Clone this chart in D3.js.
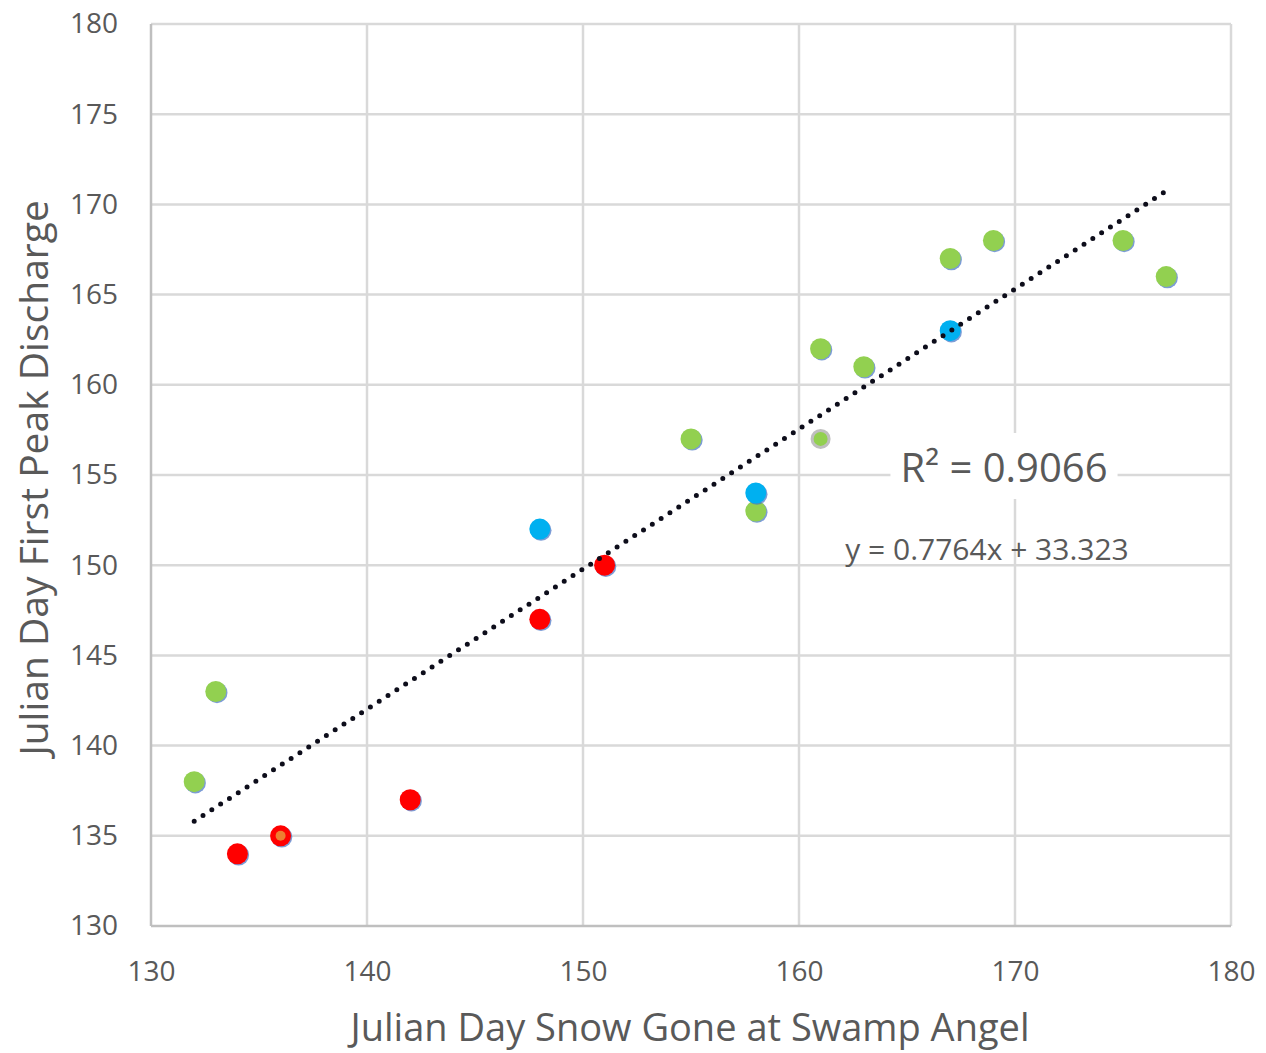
<!DOCTYPE html>
<html>
<head>
<meta charset="utf-8">
<script src="https://cdn.jsdelivr.net/npm/d3@7"></script>
<style>
  html, body { margin: 0; padding: 0; background: #fff; }
  svg { display: block; font-family: "Open Sans", "Noto Sans", sans-serif; }
</style>
</head>
<body>
<svg id="chart" width="1266" height="1053"></svg>
<script>
// Snow-gone day vs. first peak discharge day, coloured by group
const greenPoints = [[132,138],[133,143],[155,157],[158,153],[161,162],[163,161],[167,167],[169,168],[175,168],[177,166]];
const grayGreenPoints = [[161,157]];
const bluePoints = [[148,152],[158,154],[167,163]];
const redPoints = [[134,134],[142,137],[148,147],[151,150]];
const redOrangePoints = [[136,135]];

const xTicks = [130,140,150,160,170,180];
const yTicks = [130,135,140,145,150,155,160,165,170,175,180];

const trend = { slope: 0.7764, intercept: 33.323, xMin: 132, xMax: 177 };
const r2Label = "R² = 0.9066";
const eqLabel = "y = 0.7764x + 33.323";
const xTitle = "Julian Day Snow Gone at Swamp Angel";
const yTitle = "Julian Day First Peak Discharge";

const svg = d3.select("#chart");
const plot = { left: 151, right: 1231, top: 24, bottom: 926 };

const x = d3.scaleLinear().domain([130, 180]).range([plot.left, plot.right]);
const y = d3.scaleLinear().domain([130, 180]).range([plot.bottom, plot.top]);

const textColor = "#595959";
const gridColor = "#d9d9d9";

// gridlines
svg.append("g").selectAll("line").data(yTicks.slice(1)).join("line")
  .attr("x1", plot.left).attr("x2", plot.right)
  .attr("y1", d => y(d)).attr("y2", d => y(d))
  .attr("stroke", gridColor).attr("stroke-width", 2.5);
svg.append("g").selectAll("line").data(xTicks.slice(1)).join("line")
  .attr("x1", d => x(d)).attr("x2", d => x(d))
  .attr("y1", plot.top).attr("y2", plot.bottom)
  .attr("stroke", gridColor).attr("stroke-width", 2.5);

// axis lines
svg.append("line").attr("x1", plot.left).attr("x2", plot.left)
  .attr("y1", plot.top).attr("y2", plot.bottom)
  .attr("stroke", "#bfbfbf").attr("stroke-width", 2.5);
svg.append("line").attr("x1", plot.left).attr("x2", plot.right)
  .attr("y1", plot.bottom).attr("y2", plot.bottom)
  .attr("stroke", "#bfbfbf").attr("stroke-width", 2.5);

// tick labels via d3 axes (tick marks hidden)
const yAxis = svg.append("g").attr("transform", `translate(${plot.left},0)`)
  .call(d3.axisLeft(y).tickValues(yTicks).tickSize(0).tickPadding(33).tickFormat(d3.format("d")));
const xAxis = svg.append("g").attr("transform", `translate(0,${plot.bottom})`)
  .call(d3.axisBottom(x).tickValues(xTicks).tickSize(0).tickPadding(35).tickFormat(d3.format("d")));
[yAxis, xAxis].forEach(a => {
  a.select(".domain").remove();
  a.selectAll("text").attr("fill", textColor).style("font-size", "28px")
    .style("font-family", "'Open Sans', sans-serif");
});

// R² label on a white box
const r2x = 1004, r2y = 466;
const r2Group = svg.append("g");
const r2Rect = r2Group.append("rect").attr("fill", "#fff");
const r2Text = r2Group.append("text").attr("x", r2x).attr("y", r2y)
  .attr("text-anchor", "middle").attr("dominant-baseline", "central")
  .attr("fill", textColor).style("font-size", "40px").text(r2Label);
const bb = r2Text.node().getBBox();
r2Rect.attr("x", bb.x - 10).attr("y", r2y - 33)
  .attr("width", bb.width + 20).attr("height", 66);

svg.append("text").attr("x", 987).attr("y", 548)
  .attr("text-anchor", "middle").attr("dominant-baseline", "central")
  .attr("fill", textColor).style("font-size", "30px").text(eqLabel);

// markers
function drawPoints(data, fill, r) {
  const g = svg.append("g");
  g.selectAll("circle.sh").data(data).join("circle").attr("class", "sh")
    .attr("cx", d => x(d[0]) + 1.2).attr("cy", d => y(d[1]) + 1.2)
    .attr("r", r).attr("fill", "#4472c4").attr("opacity", 0.7);
  g.selectAll("circle.pt").data(data).join("circle").attr("class", "pt")
    .attr("cx", d => x(d[0])).attr("cy", d => y(d[1]))
    .attr("r", r).attr("fill", fill);
  return g;
}
drawPoints(greenPoints, "#92d050", 10.5);
drawPoints(bluePoints, "#00b0f0", 10.5);
drawPoints(redPoints, "#ff0000", 10.5);
// outlined variants
svg.append("g").selectAll("circle").data(grayGreenPoints).join("circle")
  .attr("cx", d => x(d[0])).attr("cy", d => y(d[1])).attr("r", 8.5)
  .attr("fill", "#92d050").attr("stroke", "#bfbfbf").attr("stroke-width", 3);
const ro = drawPoints(redOrangePoints, "#ff0000", 10.5);
ro.selectAll("circle.in").data(redOrangePoints).join("circle").attr("class", "in")
  .attr("cx", d => x(d[0])).attr("cy", d => y(d[1])).attr("r", 5)
  .attr("fill", "#ed7d31");

// linear trendline, dotted
const trendData = [trend.xMin, trend.xMax].map(v => [v, trend.slope * v + trend.intercept]);
svg.append("path").datum(trendData)
  .attr("d", d3.line().x(d => x(d[0])).y(d => y(d[1])))
  .attr("fill", "none").attr("stroke", "#0d0d1a").attr("stroke-width", 5)
  .attr("stroke-linecap", "round").attr("stroke-dasharray", "0,10.5");

// axis titles
svg.append("text").attr("x", 690).attr("y", 1026)
  .attr("text-anchor", "middle").attr("dominant-baseline", "central")
  .attr("fill", textColor).style("font-size", "38px").text(xTitle);
svg.append("text").attr("transform", `translate(32,478) rotate(-90)`)
  .attr("text-anchor", "middle").attr("dominant-baseline", "central")
  .attr("fill", textColor).style("font-size", "39px").text(yTitle);
</script>
</body>
</html>
